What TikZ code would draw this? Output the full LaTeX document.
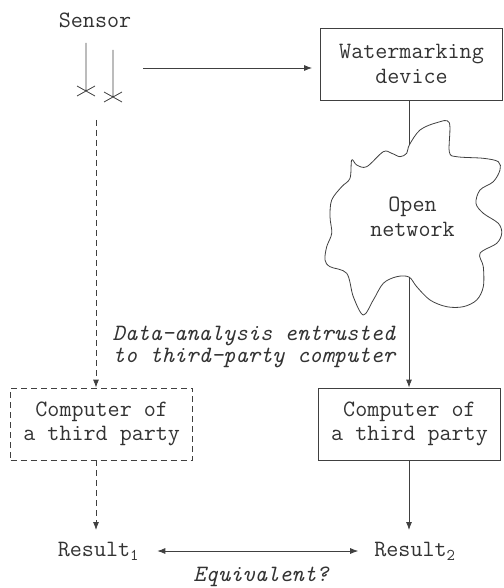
\documentclass[tikz,border=0pt]{standalone}
\usepackage{fontspec}
\usetikzlibrary{positioning,arrows.meta}

\tikzset{
	every node/.style={font=\ttfamily\fontsize{23.4pt}{24.5pt}\selectfont, text=black!80},
	box/.style={draw=black!75, line width=0.8pt, align=center, minimum width=182pt, minimum height=72pt, inner sep=0pt},
	line/.style={draw=black!75, line width=0.8pt},
	conn/.style={line, -{Latex[length=8pt,width=6pt]}},
	dashline/.style={dash pattern=on 6pt off 4pt},
}

\begin{document}
\begin{tikzpicture}[x=1pt,y=-1pt]
	\useasboundingbox (0,0) rectangle (503,588);

	% sensor with its two probes
	\node(sensor) at (95,20) {Sensor};
	\draw[line] (86,43) -- (86,91)  (77,86) -- (95,96)  (95,86) -- (77,96);
	\draw[line] (113,50) -- (113,97)  (104,92) -- (122,102)  (122,92) -- (104,102);
	\coordinate(sensorright) at (143,68);
	\coordinate(sensorout) at (96,120);

	\node(wm)[box] at (411.5,64) {Watermarking\\device};

	% the open network
	\draw[line] plot[smooth cycle, tension=0.55] coordinates {
		(409.3,145) (420,130) (436.7,122.7) (449.3,122.7) (449.3,151.7) (456.7,156.7)
		(483.3,158.3) (498.3,161.7) (500,170) (493.3,181.7) (480,190) (476,203.3)
		(483.3,213.3) (498.3,223.3) (501.7,233.3) (496.7,243.3) (480,253.3) (483.3,266.7)
		(483.3,286.7) (476.7,300) (463.3,306.7) (446.7,306.7) (430,300) (416.7,286.7)
		(409,277) (396.7,276.7) (383.3,283.3) (373.3,300) (363.3,315) (353.3,296.7)
		(346.7,273.3) (330,266.7) (325,260) (326.7,246.7) (331.7,233.3) (330,216.7)
		(331.7,200) (341.7,186.7) (350,178.3) (351.7,160) (356.7,165) (366.7,166.7)
		(383.3,151.7) (391.7,153.3) (400,156.7) (406.7,153.3)};
	\coordinate(cloudtop) at (409.3,145);
	\coordinate(cloudbot) at (409,277);
	\node(net)[align=center] at (412.5,217) {Open\\network};

	\node(comp2)[box] at (409.5,424) {Computer of\\a third party};
	\node(comp1)[box, dashline, left=125pt of comp2] {Computer of\\a third party};
	\node(note)[align=center, font=\ttfamily\itshape\fontsize{23.4pt}{22.5pt}\selectfont] at (254,347) {Data-analysis entrusted\\to third-party computer};

	\node(res1)[inner sep=2pt] at (98.5,551) {Result\textsubscript{1}};
	\node(res2)[inner sep=2pt] at (415,551) {Result\textsubscript{2}};
	\node(eq)[font=\ttfamily\itshape\fontsize{23.4pt}{24.5pt}\selectfont] at (261,577) {Equivalent?};
	\coordinate(res1top) at (96,530);
	\coordinate(res2top) at (409,530);

	\path[conn, shorten >=8pt] (sensorright) -- (sensorright -| wm.west);
	\path[conn, dashline] (sensorout) -- (sensorout |- comp1.north);
	\path[line] (cloudtop |- wm.south) -- (cloudtop);
	\path[conn] (cloudbot) -- (cloudbot |- comp2.north);
	\path[conn, dashline] (res1top |- comp1.south) -- (res1top);
	\path[conn] (res2top |- comp2.south) -- (res2top);
	\path[line, {Latex[length=8pt,width=6pt]}-{Latex[length=8pt,width=6pt]}, shorten <=16pt, shorten >=14pt] (res1.east) -- (res2.west);
\end{tikzpicture}
\end{document}
